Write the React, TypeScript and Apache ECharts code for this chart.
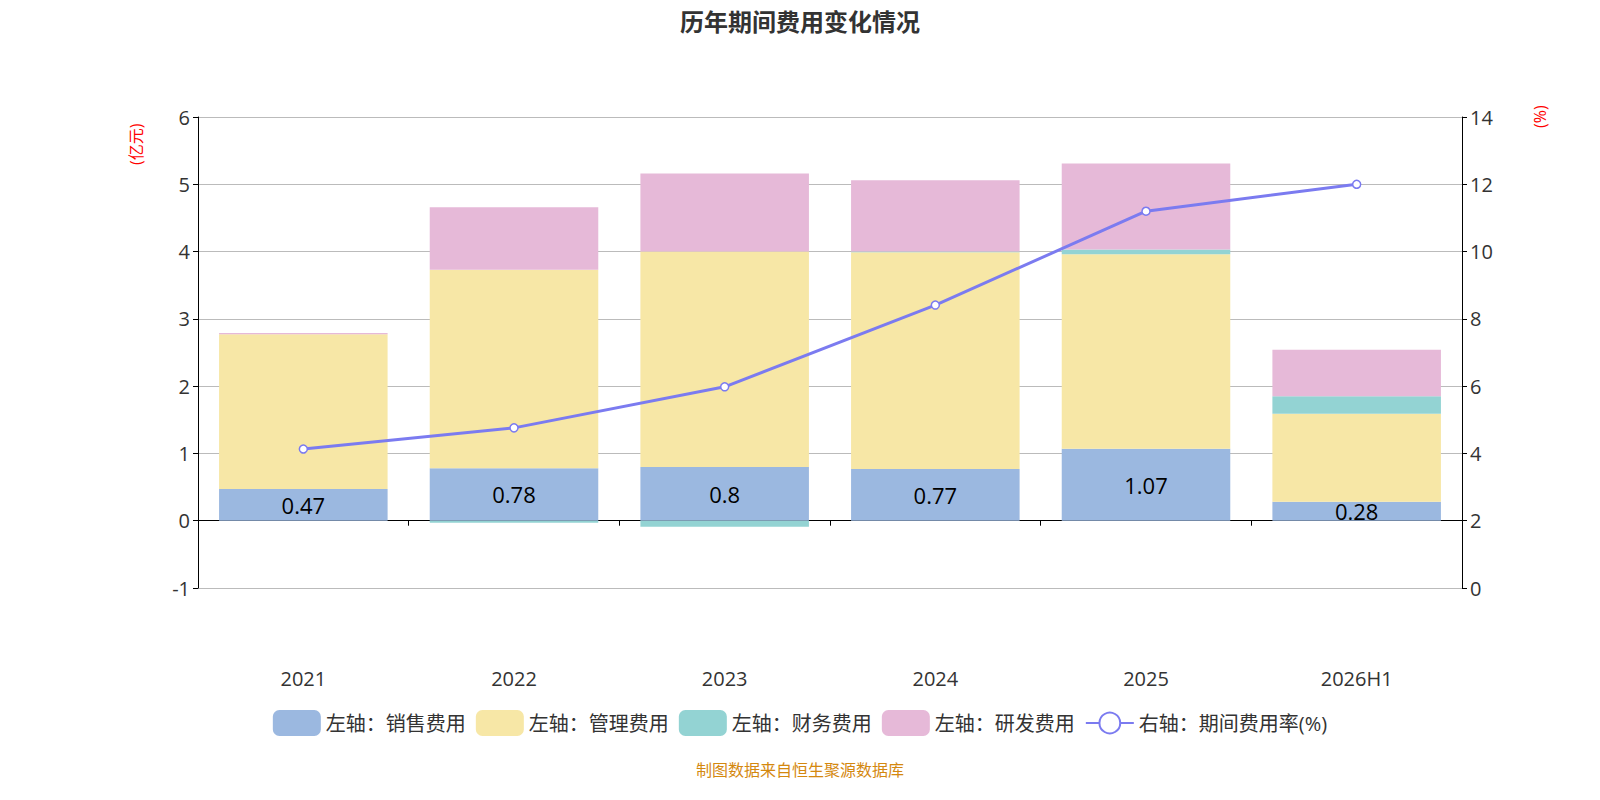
import React, { useEffect, useRef } from "react";
import * as echarts from "echarts";

const categories = ["2021", "2022", "2023", "2024", "2025", "2026H1"];
const sales = [0.47, 0.78, 0.8, 0.77, 1.07, 0.28];
const admin = [2.3, 2.95, 3.2, 3.22, 2.89, 1.31];
const finance = [0.0, -0.03, -0.09, 0.01, 0.07, 0.26];
const rnd = [0.02, 0.93, 1.16, 1.06, 1.28, 0.69];
const rate = [4.13, 4.76, 5.98, 8.41, 11.2, 12.0];

export default function App() {
  const ref = useRef<HTMLDivElement>(null);
  useEffect(() => {
    const chart = echarts.init(ref.current!, null, { renderer: "svg" });
    const font = "'Open Sans', 'Noto Sans CJK SC', sans-serif";
    const bar = (name: string, data: number[], color: string, label = false) => ({
      name,
      type: "bar",
      stack: "a",
      data,
      barWidth: "80%",
      itemStyle: { color },
      label: label
        ? { show: true, position: "inside", color: "#000", fontSize: 22, fontFamily: font }
        : { show: false },
    });
    chart.setOption({
      animation: false,
      textStyle: { fontFamily: font },
      title: {
        text: "历年期间费用变化情况",
        left: "center",
        top: 3,
        textStyle: { fontSize: 24, fontWeight: "bold", color: "#333", fontFamily: "'Noto Sans CJK SC', sans-serif" },
      },
      grid: { left: 198, right: 138, top: 117, bottom: 212 },
      legend: {
        top: 705,
        left: "center",
        itemWidth: 48,
        itemHeight: 26,
        itemGap: 10,
        textStyle: { fontSize: 20, color: "#333" },
        data: [
          { name: "左轴：销售费用", icon: "roundRect" },
          { name: "左轴：管理费用", icon: "roundRect" },
          { name: "左轴：财务费用", icon: "roundRect" },
          { name: "左轴：研发费用", icon: "roundRect" },
          { name: "右轴：期间费用率(%)" },
        ],
      },
      graphic: [
        {
          type: "text",
          x: 128,
          y: 165,
          rotation: Math.PI / 2,
          style: { text: "(亿元)", fill: "red", fontSize: 16, fontFamily: font },
        },
        {
          type: "text",
          x: 1532,
          y: 128,
          rotation: Math.PI / 2,
          style: { text: "(%)", fill: "red", fontSize: 16, fontFamily: font },
        },
        {
          type: "text",
          left: "center",
          top: 762,
          style: { text: "制图数据来自恒生聚源数据库", fill: "#d4880f", fontSize: 16, fontFamily: font },
        },
      ],
      xAxis: {
        type: "category",
        data: categories,
        axisLine: { onZero: true, lineStyle: { color: "#000" } },
        axisTick: { show: true, lineStyle: { color: "#000" } },
        axisLabel: { fontSize: 20, color: "#333", margin: 80 },
      },
      yAxis: [
        {
          type: "value",
          min: -1,
          max: 6,
          interval: 1,
          axisLine: { show: true, lineStyle: { color: "#000" } },
          axisTick: { show: true },
          axisLabel: { fontSize: 20, color: "#333" },
          splitLine: { lineStyle: { color: "#bbb" } },
        },
        {
          type: "value",
          min: 0,
          max: 14,
          interval: 2,
          axisLine: { show: true, lineStyle: { color: "#000" } },
          axisTick: { show: true },
          axisLabel: { fontSize: 20, color: "#333" },
          splitLine: { show: false },
        },
      ],
      series: [
        bar("左轴：销售费用", sales, "#9bb8e0", true),
        bar("左轴：管理费用", admin, "#f7e7a6"),
        bar("左轴：财务费用", finance, "#93d3d3"),
        bar("左轴：研发费用", rnd, "#e6b9d8"),
        {
          name: "右轴：期间费用率(%)",
          type: "line",
          yAxisIndex: 1,
          data: rate,
          symbol: "circle",
          symbolSize: 8,
          lineStyle: { color: "#7b7bf0", width: 3 },
          itemStyle: { color: "#fff", borderColor: "#7b7bf0", borderWidth: 1.5 },
        },
      ],
    });
    return () => chart.dispose();
  }, []);
  return (
    <div
      ref={ref}
      style={{ position: "fixed", left: 0, top: 0, width: 1600, height: 800, background: "#fff" }}
    />
  );
}
